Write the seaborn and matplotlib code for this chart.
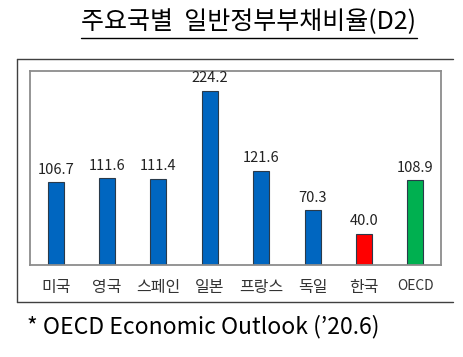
import numpy as np
import pandas as pd
import seaborn as sns
import matplotlib.pyplot as plt
from matplotlib.lines import Line2D

# data
countries = ['미국', '영국', '스페인', '일본', '프랑스', '독일', '한국', 'OECD']
debt_ratio = [106.7, 111.6, 111.4, 224.2, 121.6, 70.3, 40.0, 108.9]
bar_colors = ['#0066C0', '#0066C0', '#0066C0', '#0066C0', '#0066C0', '#0066C0', '#FF0000', '#00B050']

title = '주요국별  일반정부부채비율(D2)'
note = "* OECD Economic Outlook (\u201920.6)"

sns.set_style('white')
plt.rcParams['font.family'] = ['Noto Sans CJK KR', 'DejaVu Sans']

df = pd.DataFrame({'country': countries, 'ratio': debt_ratio})

W, H = 464, 357
fig = plt.figure(figsize=(W / 100, H / 100), dpi=100)
ax = fig.add_axes([30 / W, 1 - 265 / H, 411 / W, 194 / H])

sns.barplot(data=df, x='country', y='ratio', hue='country', palette=bar_colors,
            legend=False, width=0.31, edgecolor='#2a3a4a', linewidth=0.8,
            saturation=1, ax=ax)

for c in ax.containers:
    ax.bar_label(c, fmt='%.1f', padding=4, fontsize=10.5, color='#222222')

ax.set_ylim(0, 250)
ax.set_xlim(-0.5, len(countries) - 0.5)
ax.set_yticks([])
ax.set_xlabel('')
ax.set_ylabel('')
ax.tick_params(axis='x', length=0, pad=10, labelsize=11.5, labelcolor='#333333')
for lbl in ax.get_xticklabels():
    if lbl.get_text() == 'OECD':
        lbl.set_fontsize(10)
for s in ax.spines.values():
    s.set_visible(True)
    s.set_color('#8c8c8c')
    s.set_linewidth(1.3)

# outer frame (no right side)
def fline(x0, y0, x1, y1, **kw):
    fig.add_artist(Line2D([x0 / W, x1 / W], [1 - y0 / H, 1 - y1 / H],
                          transform=fig.transFigure, **kw))

fline(17, 59, 453, 59, color='#404040', lw=1)
fline(17, 59, 17, 302, color='#404040', lw=1)
fline(17, 302, 453, 302, color='#404040', lw=1)

# title with underline
fig.text(81 / W, 1 - 22 / H, title, fontsize=18, ha='left', va='center', color='black')
fline(81, 38, 417, 38, color='black', lw=1)

fig.text(27 / W, 1 - 327 / H, note, fontsize=16.5, ha='left', va='center', color='black')

fig.savefig('out.png', dpi=100)
